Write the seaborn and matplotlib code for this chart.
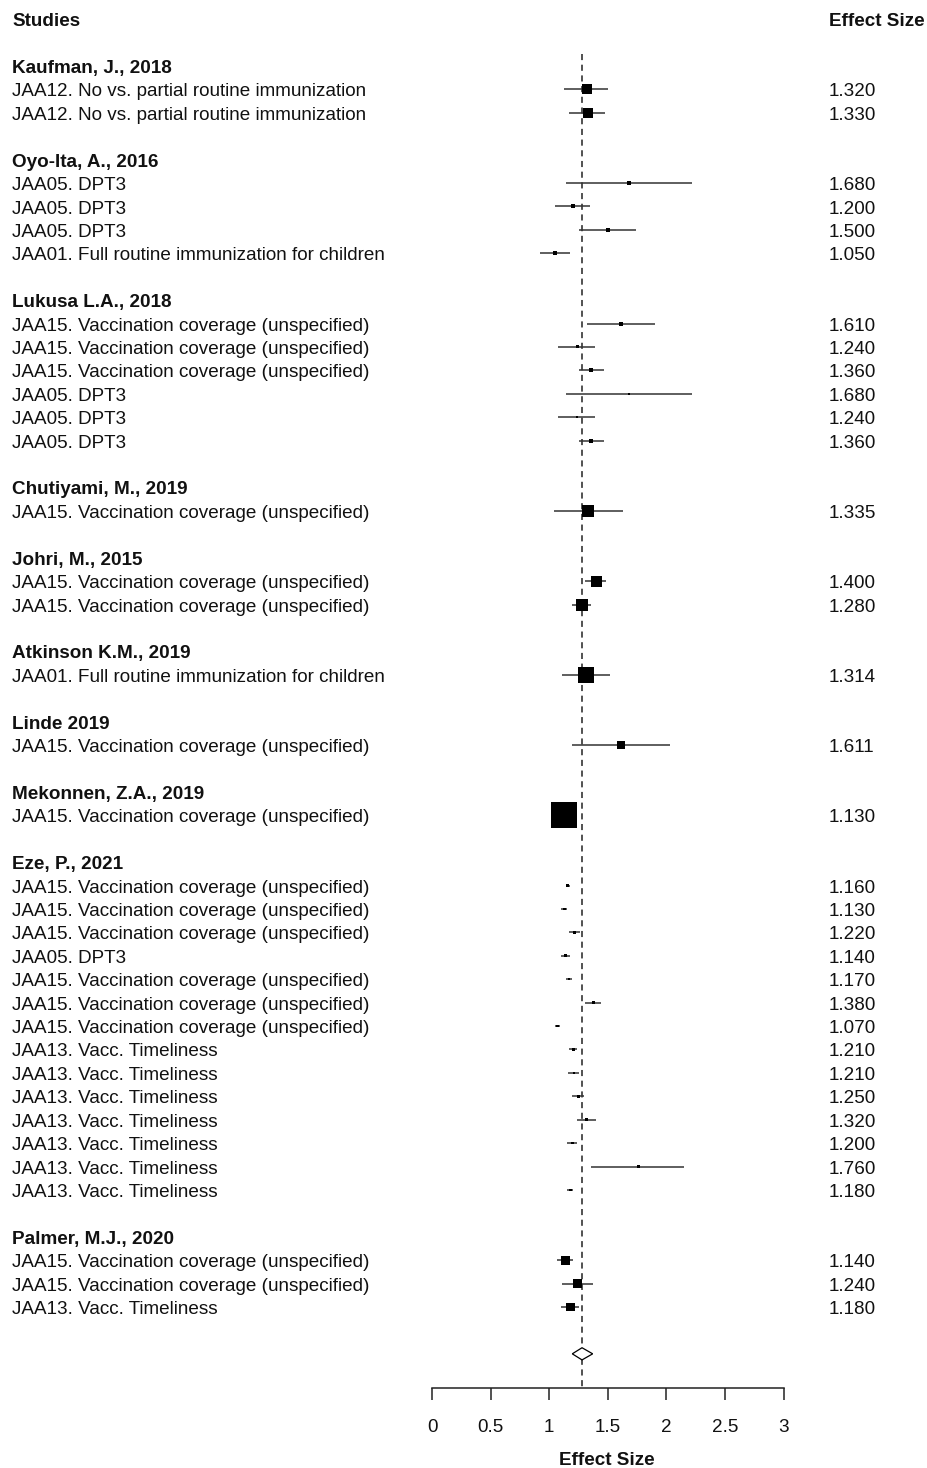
import numpy as np
import pandas as pd
import matplotlib
matplotlib.use("Agg")
import matplotlib.pyplot as plt
import matplotlib.transforms as mtransforms
import seaborn as sns

# ---------------- data ----------------
studies = ["Kaufman, J., 2018", "Oyo-Ita, A., 2016", "Lukusa L.A., 2018",
           "Chutiyami, M., 2019", "Johri, M., 2015", "Atkinson K.M., 2019",
           "Linde 2019", "Mekonnen, Z.A., 2019", "Eze, P., 2021", "Palmer, M.J., 2020"]

L12 = "JAA12. No vs. partial routine immunization"
L05 = "JAA05. DPT3"
L01 = "JAA01. Full routine immunization for children"
L15 = "JAA15. Vaccination coverage (unspecified)"
L13 = "JAA13. Vacc. Timeliness"

outcome_study = [0, 0,
                 1, 1, 1, 1,
                 2, 2, 2, 2, 2, 2,
                 3,
                 4, 4,
                 5,
                 6,
                 7,
                 8, 8, 8, 8, 8, 8, 8, 8, 8, 8, 8, 8, 8, 8,
                 9, 9, 9]
outcome_labels = [L12, L12,
                  L05, L05, L05, L01,
                  L15, L15, L15, L05, L05, L05,
                  L15,
                  L15, L15,
                  L01,
                  L15,
                  L15,
                  L15, L15, L15, L05, L15, L15, L15, L13, L13, L13, L13, L13, L13, L13,
                  L15, L15, L13]
effect = [1.320, 1.330,
          1.680, 1.200, 1.500, 1.050,
          1.610, 1.240, 1.360, 1.680, 1.240, 1.360,
          1.335,
          1.400, 1.280,
          1.314,
          1.611,
          1.130,
          1.160, 1.130, 1.220, 1.140, 1.170, 1.380, 1.070, 1.210, 1.210, 1.250, 1.320, 1.200, 1.760, 1.180,
          1.140, 1.240, 1.180]
ci_low = [1.130, 1.172,
          1.141, 1.047, 1.257, 0.922,
          1.320, 1.078, 1.257, 1.141, 1.078, 1.257,
          1.038,
          1.309, 1.195,
          1.109,
          1.195,
          1.050,
          1.145, 1.100, 1.172, 1.100, 1.141, 1.309, 1.050, 1.172, 1.160, 1.192, 1.235, 1.152, 1.360, 1.152,
          1.070, 1.109, 1.098]
ci_high = [1.505, 1.476,
           2.215, 1.351, 1.738, 1.175,
           1.903, 1.394, 1.465, 2.215, 1.394, 1.465,
           1.633,
           1.485, 1.360,
           1.516,
           2.028,
           1.210,
           1.175, 1.150, 1.266, 1.175, 1.198, 1.446, 1.090, 1.235, 1.257, 1.300, 1.403, 1.237, 2.150, 1.206,
           1.204, 1.371, 1.251]
weights = [2.0, 2.0,
           0.32, 0.32, 0.32, 0.32,
           0.32, 0.18, 0.32, 0.13, 0.08, 0.32,
           2.9,
           2.4, 2.9,
           5.1,
           1.3,
           13.5,
           0.18, 0.13, 0.18, 0.13, 0.13, 0.13, 0.13, 0.18, 0.13, 0.13, 0.13, 0.13, 0.18, 0.13,
           1.6, 1.6, 1.6]

summary_est = 1.28
summary_low = 1.197
summary_high = 1.371

x_ticks = [0, 0.5, 1, 1.5, 2, 2.5, 3]
x_tick_labels = ["0", "0.5", "1", "1.5", "2", "2.5", "3"]

# ---------------- layout ----------------
W, H = 928, 1468
PX_UNIT = 117.2      # pixels per effect-size unit
X0_PX = 432          # pixel of effect size 0
ROW_PX = 23.415      # pixels per row
ROW0_PX = 66         # pixel of first row

rows_header = []
rows_outcome = []
r = 0
for si, name in enumerate(studies):
    rows_header.append(r)
    r += 1
    for k in range(len(outcome_study)):
        if outcome_study[k] == si:
            rows_outcome.append(r)
            r += 1
    r += 1
row_summary = r
row_axis = row_summary + 1.46
row_top = -2.0

df = pd.DataFrame({"row": rows_outcome, "effect": effect, "low": ci_low,
                   "high": ci_high, "weight": weights, "label": outcome_labels})

sns.set_theme(style="white")
plt.rcParams["font.family"] = ["Liberation Sans", "DejaVu Sans"]

fig = plt.figure(figsize=(W / 100, H / 100), dpi=100)
ax = fig.add_axes([0, 0, 1, 1])
ax.set_facecolor("white")
ax.set_xlim(-X0_PX / PX_UNIT, (W - X0_PX) / PX_UNIT)
ax.set_ylim((H - ROW0_PX) / ROW_PX, -ROW0_PX / ROW_PX)

FS = 13.6
TXT = "#111111"
base_off = 0.30   # baseline offset below row centre (rows)

# reference line
ax.vlines(summary_est, -0.5, row_axis, colors="#222222", linestyles=(0, (4, 3)),
          linewidth=1.1, zorder=1)

# CIs
ax.hlines(df["row"], df["low"], df["high"], colors="#333333", linewidth=1.1, zorder=2)

# squares
wmax = max(weights)
sns.scatterplot(data=df, x="effect", y="row", size="weight",
                sizes=(0, wmax * 50 * 0.5184), size_norm=(0, wmax),
                marker="s", color="black", linewidth=0, legend=False,
                ax=ax, zorder=3)

# summary diamond
dh = 0.26
ax.fill([summary_low, summary_est, summary_high, summary_est],
        [row_summary, row_summary - dh, row_summary, row_summary + dh],
        facecolor="white", edgecolor="black", linewidth=0.9, zorder=3)

# text
tr = mtransforms.blended_transform_factory(ax.transAxes, ax.transData)
xl = 12 / W
xr = 829 / W
ax.text(xl, row_top + base_off, "Studies", transform=tr, fontsize=FS,
        fontweight="bold", color=TXT, va="baseline", ha="left")
ax.text(xr, row_top + base_off, "Effect Size", transform=tr, fontsize=FS,
        fontweight="bold", color=TXT, va="baseline", ha="left")
for name, rh in zip(studies, rows_header):
    ax.text(xl, rh + base_off, name, transform=tr, fontsize=FS,
            fontweight="bold", color=TXT, va="baseline", ha="left")
for lab, ro, e in zip(outcome_labels, rows_outcome, effect):
    ax.text(xl, ro + base_off, lab, transform=tr, fontsize=FS,
            color=TXT, va="baseline", ha="left")
    ax.text(xr, ro + base_off, f"{e:.3f}", transform=tr, fontsize=FS,
            color=TXT, va="baseline", ha="left")

# x axis
for s in ["top", "left", "right"]:
    ax.spines[s].set_visible(False)
ax.spines["bottom"].set_position(("data", row_axis))
ax.spines["bottom"].set_bounds(0, 3)
ax.spines["bottom"].set_color("#222222")
ax.spines["bottom"].set_linewidth(1.1)
ax.set_xticks(x_ticks)
ax.set_xticklabels(x_tick_labels)
ax.set_yticks([])
ax.tick_params(axis="x", direction="out", length=8.6, width=1.1, color="#222222",
               labelsize=FS, labelcolor=TXT, pad=14, bottom=True)
ax.set_xlabel("Effect Size", fontsize=FS, fontweight="bold", color=TXT)
ax.xaxis.set_label_coords(607 / W, 1 - 1452 / H)
ax.xaxis.label.set_va("top")
ax.set_ylabel("")
ax.grid(False)

fig.savefig("out.png", dpi=100, facecolor="white")
